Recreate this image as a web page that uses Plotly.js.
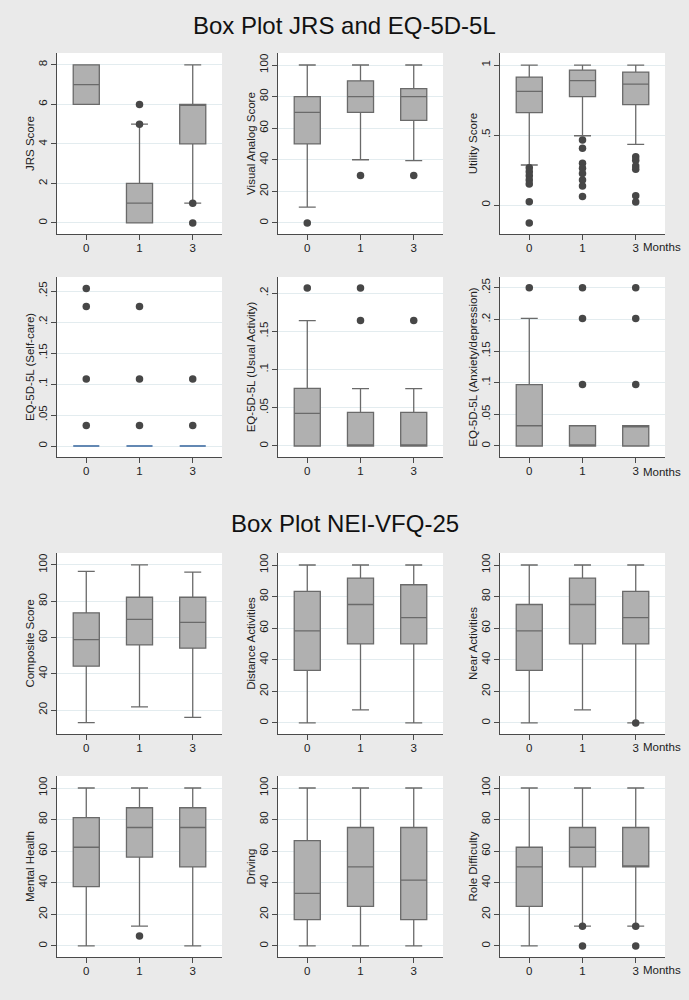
<!DOCTYPE html>
<html>
<head>
<meta charset="utf-8">
<script src="https://cdn.plot.ly/plotly-3.0.1.min.js"></script>
<style>
html,body{margin:0;padding:0;background:#eaeaea;}
#chart{width:689px;height:1000px;}
</style>
</head>
<body>
<div id="chart"></div>
<script>
// ---------- DATA ----------
const months = ['0', '1', '3'];

// JRS Score
const jrsQ1 = [6, 0, 4];
const jrsMed = [7, 1, 6];
const jrsQ3 = [8, 2, 6];
const jrsLo = [6, 0, 1];
const jrsHi = [8, 5, 8];
const jrsOut = [[], [5, 6], [1, 0]];

// Visual Analog Score
const vasQ1 = [50, 70, 65];
const vasMed = [70, 80, 80];
const vasQ3 = [80, 90, 85];
const vasLo = [10, 40, 39.5];
const vasHi = [100, 100, 100];
const vasOut = [[0], [30], [30]];

// Utility Score
const utilQ1 = [0.66, 0.774, 0.717];
const utilMed = [0.812, 0.888, 0.864];
const utilQ3 = [0.914, 0.964, 0.95];
const utilLo = [0.286, 0.495, 0.433];
const utilHi = [1, 1, 1];
const utilOut = [
  [0.267, 0.238, 0.21, 0.179, 0.15, 0.024, -0.129],
  [0.464, 0.405, 0.298, 0.262, 0.226, 0.179, 0.136, 0.06],
  [0.345, 0.32, 0.279, 0.255, 0.067, 0.021]
];

// EQ-5D-5L (Self-care)
const selfQ1 = [0, 0, 0];
const selfMed = [0, 0, 0];
const selfQ3 = [0, 0, 0];
const selfLo = [0, 0, 0];
const selfHi = [0, 0, 0];
const selfOut = [[0.254, 0.225, 0.108, 0.033], [0.225, 0.108, 0.033], [0.108, 0.033]];

// EQ-5D-5L (Usual Activity)
const usualQ1 = [0, 0, 0];
const usualMed = [0.0427, 0, 0];
const usualQ3 = [0.0754, 0.044, 0.044];
const usualLo = [0, 0, 0];
const usualHi = [0.164, 0.075, 0.075];
const usualOut = [[0.2065], [0.2065, 0.164], [0.164]];

// EQ-5D-5L (Anxiety/depression)
const anxQ1 = [0, 0, 0];
const anxMed = [0.032, 0, 0.032];
const anxQ3 = [0.097, 0.032, 0.032];
const anxLo = [0, 0, 0];
const anxHi = [0.2015, 0.032, 0.032];
const anxOut = [[0.25], [0.25, 0.2015, 0.097], [0.25, 0.2015, 0.097]];

// Composite Score
const compQ1 = [44.2, 55.9, 54.1];
const compMed = [58.8, 70, 68.3];
const compQ3 = [73.6, 82.2, 82.2];
const compLo = [13.1, 21.8, 16];
const compHi = [96.5, 100, 96];
const compOut = [[], [], []];

// Distance Activities
const distQ1 = [33.3, 50, 50];
const distMed = [58.3, 75, 66.7];
const distQ3 = [83.3, 91.7, 87.5];
const distLo = [0, 8.3, 0];
const distHi = [100, 100, 100];
const distOut = [[], [], []];

// Near Activities
const nearQ1 = [33.3, 50, 50];
const nearMed = [58.3, 75, 66.7];
const nearQ3 = [75, 91.7, 83.3];
const nearLo = [0, 8.3, 0];
const nearHi = [100, 100, 100];
const nearOut = [[], [], [0]];

// Mental Health
const mentQ1 = [37.5, 56.25, 50];
const mentMed = [62.5, 75, 75];
const mentQ3 = [81.25, 87.5, 87.5];
const mentLo = [0, 12.5, 0];
const mentHi = [100, 100, 100];
const mentOut = [[], [6.25], []];

// Driving
const drivQ1 = [16.7, 25, 16.7];
const drivMed = [33.3, 50, 41.7];
const drivQ3 = [66.7, 75, 75];
const drivLo = [0, 0, 0];
const drivHi = [100, 100, 100];
const drivOut = [[], [], []];

// Role Difficulty
const roleQ1 = [25, 50, 50];
const roleMed = [50, 62.5, 50];
const roleQ3 = [62.5, 75, 75];
const roleLo = [0, 12.5, 12.5];
const roleHi = [100, 100, 100];
const roleOut = [[], [12.5, 0], [12.5, 0]];

// Tick labels
const ticks0to8 = [0, 2, 4, 6, 8];
const ticks0to100 = [0, 20, 40, 60, 80, 100];
const ticks20to100 = [20, 40, 60, 80, 100];
const ticksUtil = [0, 0.5, 1];
const ticksUtilText = ['0', '.5', '1'];
const ticks025 = [0, 0.05, 0.1, 0.15, 0.2, 0.25];
const ticks025Text = ['0', '.05', '.1', '.15', '.2', '.25'];
const ticks020 = [0, 0.05, 0.1, 0.15, 0.2];
const ticks020Text = ['0', '.05', '.1', '.15', '.2'];

const mainTitles = ['Box Plot JRS and EQ-5D-5L', 'Box Plot NEI-VFQ-25'];
const xLabel = 'Months';

// ---------- PANELS ----------
const panels = [
  {name: 'JRS Score', q1: jrsQ1, med: jrsMed, q3: jrsQ3, lo: jrsLo, hi: jrsHi, out: jrsOut, range: [-0.56, 8.6], tv: ticks0to8, tt: ticks0to8.map(String)},
  {name: 'Visual Analog Score', q1: vasQ1, med: vasMed, q3: vasQ3, lo: vasLo, hi: vasHi, out: vasOut, range: [-7, 107.6], tv: ticks0to100, tt: ticks0to100.map(String)},
  {name: 'Utility Score', q1: utilQ1, med: utilMed, q3: utilQ3, lo: utilLo, hi: utilHi, out: utilOut, range: [-0.207, 1.086], tv: ticksUtil, tt: ticksUtilText},
  {name: 'EQ-5D-5L (Self-care)', q1: selfQ1, med: selfMed, q3: selfQ3, lo: selfLo, hi: selfHi, out: selfOut, range: [-0.0177, 0.2726], tv: ticks025, tt: ticks025Text, flat: true},
  {name: 'EQ-5D-5L (Usual Activity)', q1: usualQ1, med: usualMed, q3: usualQ3, lo: usualLo, hi: usualHi, out: usualOut, range: [-0.0144, 0.221], tv: ticks020, tt: ticks020Text},
  {name: 'EQ-5D-5L (Anxiety/depression)', q1: anxQ1, med: anxMed, q3: anxQ3, lo: anxLo, hi: anxHi, out: anxOut, range: [-0.0174, 0.267], tv: ticks025, tt: ticks025Text},
  {name: 'Composite Score', q1: compQ1, med: compMed, q3: compQ3, lo: compLo, hi: compHi, out: compOut, range: [6.8, 106.6], tv: ticks20to100, tt: ticks20to100.map(String)},
  {name: 'Distance Activities', q1: distQ1, med: distMed, q3: distQ3, lo: distLo, hi: distHi, out: distOut, range: [-7, 107.6], tv: ticks0to100, tt: ticks0to100.map(String)},
  {name: 'Near Activities', q1: nearQ1, med: nearMed, q3: nearQ3, lo: nearLo, hi: nearHi, out: nearOut, range: [-7, 107.6], tv: ticks0to100, tt: ticks0to100.map(String)},
  {name: 'Mental Health', q1: mentQ1, med: mentMed, q3: mentQ3, lo: mentLo, hi: mentHi, out: mentOut, range: [-7, 107.6], tv: ticks0to100, tt: ticks0to100.map(String)},
  {name: 'Driving', q1: drivQ1, med: drivMed, q3: drivQ3, lo: drivLo, hi: drivHi, out: drivOut, range: [-7, 107.6], tv: ticks0to100, tt: ticks0to100.map(String)},
  {name: 'Role Difficulty', q1: roleQ1, med: roleMed, q3: roleQ3, lo: roleLo, hi: roleHi, out: roleOut, range: [-7, 107.6], tv: ticks0to100, tt: ticks0to100.map(String)}
];

// ---------- LAYOUT GEOMETRY (pixels) ----------
const W = 689, H = 1000;
const colX = [[57, 222], [278, 443], [500, 665]];
const rowY = [[53, 234], [277, 457], [553, 734], [776, 957]];
const FONT = 'Liberation Sans, Arial, Helvetica, sans-serif';
const TXT = '#222222';

const traces = [];
const layout = {
  width: W, height: H,
  margin: {l: 0, r: 0, t: 0, b: 0},
  paper_bgcolor: '#eaeaea',
  plot_bgcolor: '#ffffff',
  showlegend: false,
  font: {family: FONT, size: 11, color: TXT},
  annotations: []
};

panels.forEach((p, i) => {
  const n = i + 1;
  const sfx = n === 1 ? '' : String(n);
  const row = Math.floor(i / 3), col = i % 3;
  const xa = 'x' + sfx, ya = 'y' + sfx;

  traces.push({
    type: 'box',
    x: months,
    q1: p.q1, median: p.med, q3: p.q3,
    lowerfence: p.lo, upperfence: p.hi,
    boxpoints: false,
    width: 0.49,
    whiskerwidth: 0.65,
    fillcolor: '#b0b0b0',
    line: {color: p.flat ? '#6388b3' : '#6a6a6a', width: p.flat ? 2 : 1.3},
    xaxis: xa, yaxis: ya,
    hoverinfo: 'skip',
    showlegend: false
  });

  const ox = [], oy = [];
  p.out.forEach((vals, k) => vals.forEach(v => { ox.push(months[k]); oy.push(v); }));
  if (ox.length) {
    traces.push({
      type: 'scatter', mode: 'markers',
      x: ox, y: oy,
      marker: {color: '#474747', size: 7.5},
      xaxis: xa, yaxis: ya,
      hoverinfo: 'skip', showlegend: false
    });
  }

  layout['xaxis' + sfx] = {
    domain: [colX[col][0] / W, colX[col][1] / W],
    anchor: ya,
    type: 'category',
    categoryorder: 'array', categoryarray: months,
    range: [-0.55, 2.55],
    showline: true, linecolor: '#4a4a4a', linewidth: 1,
    ticks: 'outside', ticklen: 5, tickcolor: '#4a4a4a',
    ticklabelstandoff: -2,
    showgrid: false, zeroline: false,
    tickfont: {family: FONT, size: 11.5, color: TXT},
    fixedrange: true
  };
  layout['yaxis' + sfx] = {
    domain: [1 - rowY[row][1] / H, 1 - rowY[row][0] / H],
    anchor: xa,
    range: p.range,
    tickmode: 'array', tickvals: p.tv, ticktext: p.tt,
    tickangle: -90,
    showline: true, linecolor: '#4a4a4a', linewidth: 1,
    ticks: 'outside', ticklen: 5, tickcolor: '#4a4a4a',
    ticklabelstandoff: -1,
    showgrid: true, gridcolor: '#e3ecef', gridwidth: 1,
    zeroline: false,
    tickfont: {family: FONT, size: 11.5, color: TXT},
    title: {text: p.name, font: {family: FONT, size: 11.5, color: TXT}, standoff: 0},
    fixedrange: true
  };
});

// Main titles
layout.annotations.push({
  text: mainTitles[0], xref: 'paper', yref: 'paper', x: 0.5, y: 1 - 25 / H,
  xanchor: 'center', yanchor: 'middle', showarrow: false,
  font: {family: FONT, size: 24, color: '#111111'}
});
layout.annotations.push({
  text: mainTitles[1], xref: 'paper', yref: 'paper', x: 0.5, y: 1 - 523 / H,
  xanchor: 'center', yanchor: 'middle', showarrow: false,
  font: {family: FONT, size: 24, color: '#111111'}
});

// "Months" labels at right of each row
const monthsY = [247, 472, 747, 970];
monthsY.forEach(yy => {
  layout.annotations.push({
    text: xLabel, xref: 'paper', yref: 'paper', x: 662 / W, y: 1 - yy / H,
    xanchor: 'center', yanchor: 'middle', showarrow: false,
    font: {family: FONT, size: 11.5, color: TXT}
  });
});

Plotly.newPlot('chart', traces, layout, {staticPlot: true, displayModeBar: false});
</script>
</body>
</html>
